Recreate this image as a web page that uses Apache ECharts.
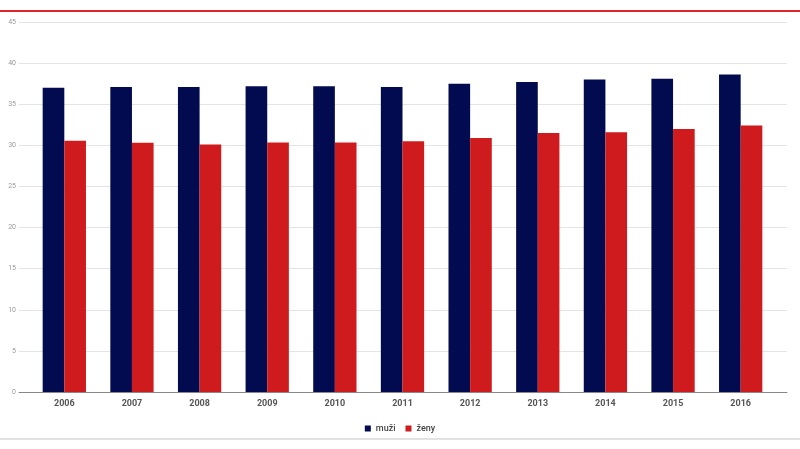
<!DOCTYPE html>
<html><head><meta charset="utf-8">
<script src="https://cdn.jsdelivr.net/npm/echarts@6/dist/echarts.min.js"></script>
<style>html,body{margin:0;padding:0;background:#fff}#c{width:800px;height:449px}</style>
</head><body><div id="c"></div>
<script>
var years = ['2006','2007','2008','2009','2010','2011','2012','2013','2014','2015','2016'];
var muzi = [37.0, 37.1, 37.1, 37.2, 37.2, 37.1, 37.5, 37.7, 38.0, 38.1, 38.6];
var zeny = [30.55, 30.3, 30.1, 30.35, 30.35, 30.5, 30.9, 31.5, 31.6, 32.0, 32.4];
var yTicks = {min: 0, max: 45, interval: 5};

var chart = echarts.init(document.getElementById('c'));
chart.setOption({
  animation: false,
  backgroundColor: '#fff',
  legend: {
    top: 419, left: 'center',
    icon: 'rect', itemWidth: 6, itemHeight: 6, itemGap: 10,
    textStyle: {fontFamily: 'Roboto', fontSize: 9, fontWeight: 500, color: '#444'},
    data: ['muži', 'ženy']
  },
  grid: [
    {left: 19, right: 13, top: 22, bottom: 57},
    {left: 30.5, right: 25.5, top: 22, bottom: 57}
  ],
  xAxis: [
    {type: 'value', gridIndex: 0, min: 0, max: 1, show: true,
     axisLine: {show: true, onZero: false, lineStyle: {color: '#888', width: 1}},
     axisTick: {show: false}, axisLabel: {show: false}, splitLine: {show: false}},
    {type: 'category', gridIndex: 1, data: years,
     axisLine: {show: false}, axisTick: {show: false},
     axisLabel: {fontFamily: 'Roboto', fontSize: 9, fontWeight: 'bold', color: '#555', margin: 7}}
  ],
  yAxis: [
    {type: 'value', gridIndex: 0, min: yTicks.min, max: yTicks.max, interval: yTicks.interval,
     axisLine: {show: false}, axisTick: {show: false},
     axisLabel: {fontFamily: 'Roboto', fontSize: 7, color: '#999', margin: 3},
     splitLine: {lineStyle: {color: '#e4e4e4', width: 1}}},
    {type: 'value', gridIndex: 1, min: yTicks.min, max: yTicks.max, interval: yTicks.interval,
     show: false, splitLine: {show: false}}
  ],
  series: [
    {name: 'muži', type: 'bar', xAxisIndex: 1, yAxisIndex: 1, data: muzi,
     barGap: '0%', barCategoryGap: '36%', itemStyle: {color: '#020b50'}},
    {name: 'ženy', type: 'bar', xAxisIndex: 1, yAxisIndex: 1, data: zeny,
     itemStyle: {color: '#cf1b1e'}}
  ],
  graphic: [
    {type: 'rect', shape: {x: 0, y: 10, width: 800, height: 2}, style: {fill: '#e0262a'}, silent: true},
    {type: 'rect', shape: {x: 0, y: 438.5, width: 800, height: 1}, style: {fill: '#c8c8c8'}, silent: true}
  ]
});
</script></body></html>
